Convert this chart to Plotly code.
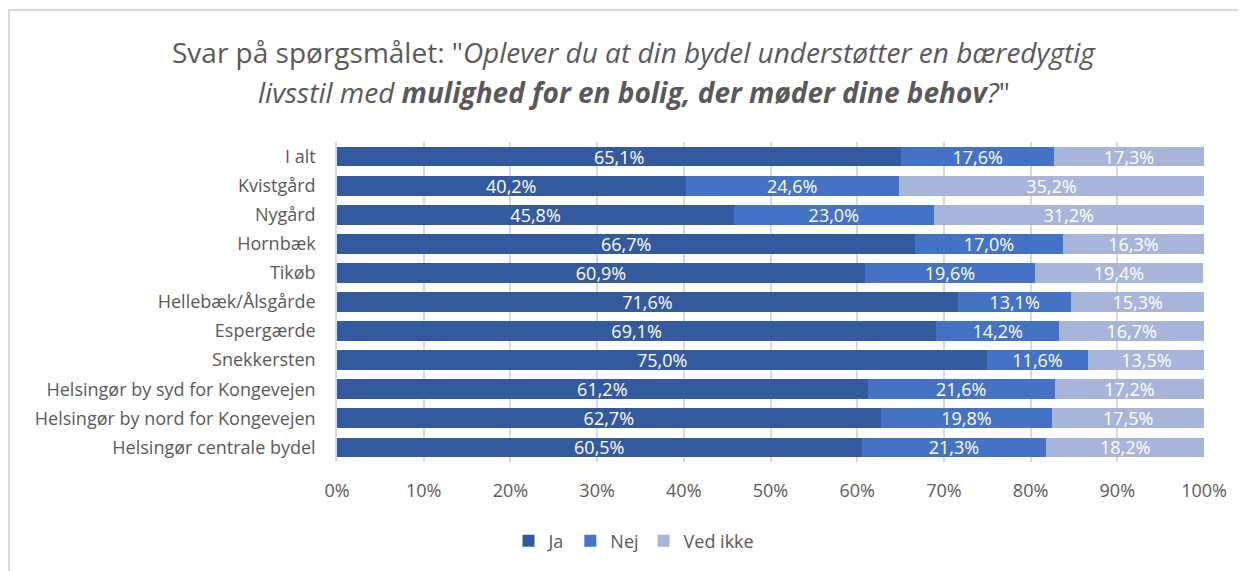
import plotly.graph_objects as go

categories = ["I alt", "Kvistgård", "Nygård", "Hornbæk", "Tikøb", "Hellebæk/Ålsgårde",
              "Espergærde", "Snekkersten", "Helsingør by syd for Kongevejen",
              "Helsingør by nord for Kongevejen", "Helsingør centrale bydel"]
ja = [65.1, 40.2, 45.8, 66.7, 60.9, 71.6, 69.1, 75.0, 61.2, 62.7, 60.5]
nej = [17.6, 24.6, 23.0, 17.0, 19.6, 13.1, 14.2, 11.6, 21.6, 19.8, 21.3]
ved_ikke = [17.3, 35.2, 31.2, 16.3, 19.4, 15.3, 16.7, 13.5, 17.2, 17.5, 18.2]
x_ticks = [0, 10, 20, 30, 40, 50, 60, 70, 80, 90, 100]

FONT = "Open Sans"
GREY = "#595959"
series = [("Ja", ja, "#335A9F"), ("Nej", nej, "#4472C4"), ("Ved ikke", ved_ikke, "#A7B5DB")]

fig = go.Figure()
for name, vals, col in series:
    fig.add_trace(go.Bar(
        y=categories, x=vals, name=name, orientation="h",
        marker=dict(color=col, line=dict(width=0)),
        text=vals, texttemplate="%{x:.1f}%", textposition="inside",
        insidetextanchor="middle", textangle=0,
        insidetextfont=dict(color="white", size=18, family=FONT),
        hoverinfo="skip",
    ))

OFF = 8  # page body margin
W, H = 1246 - OFF, 571 - OFF
L, T = 337 - OFF, 142 - OFF
pw, ph = 867, 320
R = W - L - pw
B = H - T - ph

def px(x):
    return (x - OFF - L) / pw

def py(y):
    return (T + ph - (y - OFF)) / ph

fig.update_layout(
    width=W, height=H, barmode="stack", bargap=0.32,
    separators=",.",
    paper_bgcolor="white", plot_bgcolor="white",
    margin=dict(l=L, r=R, t=T, b=B),
    font=dict(family=FONT, color=GREY, size=18),
    uniformtext=dict(minsize=18, mode="show"),
    showlegend=True,
    legend=dict(orientation="h", x=px(634), xanchor="center", y=py(541), yanchor="middle",
                font=dict(size=18, color=GREY, family=FONT),
                itemwidth=30, traceorder="normal"),
    xaxis=dict(range=[0, 100], tickvals=x_ticks, ticktext=[f"{v}%" for v in x_ticks],
               showgrid=True, gridcolor="#D9D9D9", gridwidth=1.5, zeroline=False,
               showline=False, ticks="", ticklabelstandoff=16,
               tickfont=dict(size=18, color=GREY)),
    yaxis=dict(autorange="reversed", showgrid=False, ticks="", showline=True,
               linecolor="#D9D9D9", linewidth=1.5, ticklabelstandoff=16,
               tickfont=dict(size=18, color=GREY)),
    shapes=[dict(type="rect", xref="paper", yref="paper",
                 x0=px(9), x1=px(1270), y0=py(600), y1=py(10),
                 line=dict(color="#D9D9D9", width=2), fillcolor="rgba(0,0,0,0)", layer="below")],
    annotations=[
        dict(text='Svar på spørgsmålet: "<i>Oplever du at din bydel understøtter en bæredygtig</i>',
             xref="paper", yref="paper", x=px(634), y=py(52), xanchor="center", yanchor="middle",
             showarrow=False, font=dict(size=28, color=GREY, family=FONT)),
        dict(text='<i>livsstil med <b>mulighed for en bolig, der møder dine behov</b>?</i>"',
             xref="paper", yref="paper", x=px(634), y=py(92), xanchor="center", yanchor="middle",
             showarrow=False, font=dict(size=28, color=GREY, family=FONT)),
    ],
)

fig.write_html("out.html")
